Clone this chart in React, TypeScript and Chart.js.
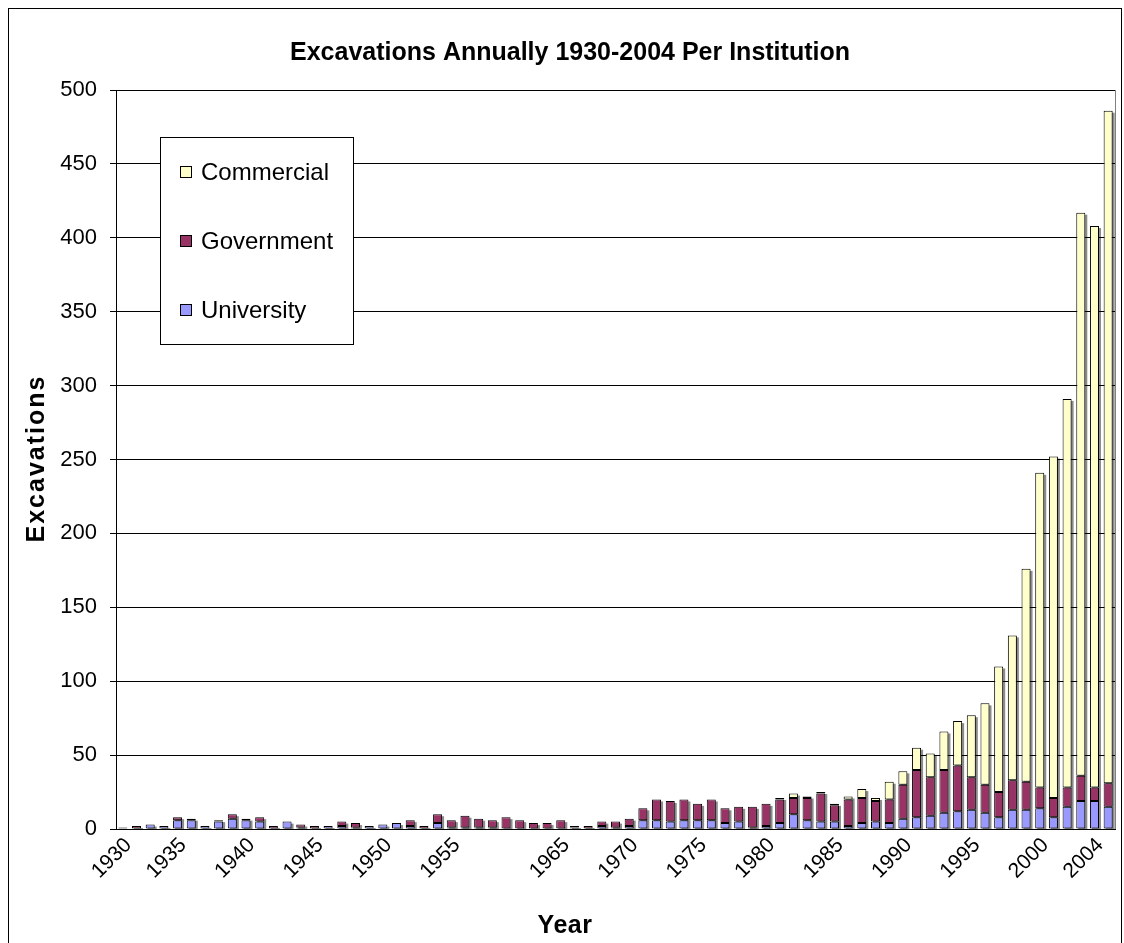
import { useEffect, useRef } from 'react';
import { Chart, registerables } from 'chart.js';

Chart.register(...registerables);

// Category (tick) labels: one entry per bar, only some years are labelled
const categories = [
  '', '1930', '', '', '', '1935', '', '', '', '', '1940', '', '', '', '', '1945', '', '', '', '', '1950', '', '', '', '', '1955',
  '', '', '', '', '', '', '', '1965', '', '', '', '', '1970', '', '', '', '', '1975', '', '', '', '', '1980', '', '', '', '',
  '1985', '', '', '', '', '1990', '', '', '', '', '1995', '', '', '', '', '2000', '', '', '', '2004',
];

const university = [
  1, 0, 3, 2, 6, 6, 2, 5, 7, 6, 5, 0, 5, 1, 0, 2, 2, 1, 2, 3, 4, 2, 0, 4, 1, 1,
  1, 1, 0, 0, 0, 0, 0, 1, 0, 2, 1, 2, 6, 6, 5, 6, 6, 6, 4, 5, 1, 2, 4, 10, 6, 5, 5,
  2, 4, 5, 4, 7, 8, 9, 11, 12, 13, 11, 8, 13, 13, 14, 8, 15, 19, 19, 15,
];
const government = [
  0, 2, 0, 0, 2, 1, 0, 1, 3, 1, 3, 2, 0, 2, 2, 0, 3, 3, 0, 0, 0, 4, 2, 6, 5, 8,
  6, 5, 8, 6, 4, 4, 6, 1, 2, 3, 4, 5, 8, 14, 14, 14, 11, 14, 10, 10, 14, 15, 16, 11, 15, 19, 11,
  18, 17, 14, 16, 23, 32, 26, 29, 31, 22, 19, 17, 20, 19, 14, 13, 13, 17, 9, 16,
];
const commercial = [
  0, 0, 0, 0, 0, 0, 0, 0, 0, 0, 0, 0, 0, 0, 0, 0, 0, 0, 0, 0, 0, 0, 0, 0, 0, 0,
  0, 0, 0, 0, 0, 0, 0, 0, 0, 0, 0, 0, 0, 0, 0, 0, 0, 0, 0, 0, 0, 0, 1, 3, 1, 1, 1,
  2, 6, 2, 12, 9, 15, 16, 26, 30, 42, 55, 85, 98, 144, 213, 231, 263, 381, 380, 455,
];

const seriesNames = ['University', 'Government', 'Commercial'];
const seriesColors = ['#9999FF', '#993366', '#FFFFCC'];
const chartTitle = 'Excavations Annually 1930-2004 Per Institution';
const yTitle = 'Excavations';
const xTitle = 'Year';

const FONT = "'Liberation Sans', Arial, Helvetica, sans-serif";

const decorPlugin = {
  id: 'excelDecor',
  beforeDatasetsDraw(chart: any) {
    const { ctx, chartArea } = chart;
    const metas = chart.getSortedVisibleDatasetMetas();
    const n = chart.data.labels.length;
    ctx.save();
    ctx.beginPath();
    ctx.rect(chartArea.left, chartArea.top, chartArea.right - chartArea.left, chartArea.bottom - chartArea.top);
    ctx.clip();
    ctx.fillStyle = 'rgba(0,0,0,0.45)';
    for (let i = 0; i < n; i++) {
      let top = Infinity;
      let bottom = -Infinity;
      let x = 0;
      let w = 0;
      metas.forEach((m: any) => {
        const el = m.data[i];
        if (!el) return;
        const p = el.getProps(['x', 'y', 'base', 'width'], true);
        const v = chart.data.datasets[m.index].data[i];
        if (!v) return;
        top = Math.min(top, p.y, p.base);
        bottom = Math.max(bottom, p.y, p.base);
        x = p.x;
        w = p.width;
      });
      if (top < bottom) {
        ctx.fillRect(x - w / 2 + 2, top + 2, w, bottom - top);
      }
    }
    ctx.restore();
  },
  afterDraw(chart: any) {
    const { ctx, chartArea, width } = chart;
    ctx.save();
    // plot area right border
    ctx.strokeStyle = '#808080';
    ctx.lineWidth = 1;
    ctx.beginPath();
    ctx.moveTo(Math.round(chartArea.right) + 0.5, chartArea.top);
    ctx.lineTo(Math.round(chartArea.right) + 0.5, chartArea.bottom);
    ctx.stroke();

    ctx.fillStyle = '#000';
    // chart title
    ctx.save();
    ctx.font = `bold 25px ${FONT}`;
    ctx.textAlign = 'center';
    ctx.textBaseline = 'middle';
    ctx.fillText(chartTitle, width / 2 + 5, 44);
    ctx.restore();

    // y axis title
    ctx.save();
    ctx.translate(27, (chartArea.top + chartArea.bottom) / 2);
    ctx.rotate(-Math.PI / 2);
    ctx.font = `bold 25px ${FONT}`;
    (ctx as any).letterSpacing = '2px';
    ctx.textAlign = 'center';
    ctx.textBaseline = 'middle';
    ctx.fillText(yTitle, 1, 1);
    ctx.restore();

    // x axis title
    ctx.save();
    ctx.font = `bold 25px ${FONT}`;
    (ctx as any).letterSpacing = '0.5px';
    ctx.textAlign = 'center';
    ctx.textBaseline = 'middle';
    ctx.fillText(xTitle, width / 2, chartArea.bottom + 97);
    ctx.restore();

    // legend box
    const bx = chartArea.left + 44;
    const by = chartArea.top + 47;
    const bw = 193;
    const bh = 207;
    ctx.fillStyle = '#fff';
    ctx.fillRect(bx, by, bw, bh);
    ctx.strokeStyle = '#000';
    ctx.strokeRect(Math.round(bx) + 0.5, Math.round(by) + 0.5, bw, bh);
    const order = [2, 1, 0];
    order.forEach((di, k) => {
      const ds = chart.data.datasets[di];
      const cy = by + 35 + k * 69;
      ctx.fillStyle = ds.backgroundColor;
      ctx.fillRect(bx + 20, cy - 6, 12, 12);
      ctx.strokeStyle = '#000';
      ctx.strokeRect(bx + 20.5, cy - 5.5, 11, 11);
      ctx.fillStyle = '#000';
      ctx.font = `24px ${FONT}`;
      ctx.textAlign = 'left';
      ctx.textBaseline = 'middle';
      ctx.fillText(ds.label, bx + 41, cy + 1);
    });
    ctx.restore();
  },
};

export default function App() {
  const canvasRef = useRef<HTMLCanvasElement | null>(null);

  useEffect(() => {
    const canvas = canvasRef.current;
    if (!canvas) return;
    const seriesData = [university, government, commercial];
    const chart = new Chart(canvas, {
      type: 'bar',
      data: {
        labels: categories,
        datasets: seriesData.map((d, i) => ({
          label: seriesNames[i],
          data: d,
          backgroundColor: seriesColors[i],
          borderColor: '#000',
          borderWidth: 1,
          borderSkipped: false,
          categoryPercentage: 1,
          barPercentage: 0.66,
        })),
      },
      options: {
        responsive: false,
        animation: false,
        maintainAspectRatio: false,
        layout: { padding: { left: 0, right: 6, top: 81, bottom: 0 } },
        plugins: {
          legend: { display: false },
          tooltip: { enabled: false },
          title: { display: false },
        },
        scales: {
          x: {
            stacked: true,
            grid: { display: false, drawTicks: false },
            border: { display: true, color: '#000', width: 1 },
            ticks: {
              autoSkip: false,
              minRotation: 45,
              maxRotation: 45,
              color: '#000',
              padding: 4,
              labelOffset: -8,
              font: { family: FONT, size: 21 },
            },
            afterFit: (s: any) => {
              s.height = 114;
              s.paddingLeft = 0;
              s.paddingRight = 0;
            },
          },
          y: {
            stacked: true,
            min: 0,
            max: 500,
            ticks: {
              stepSize: 50,
              color: '#000',
              padding: 13,
              font: { family: FONT, size: 22 },
            },
            grid: { color: '#000', lineWidth: 1, tickLength: 6, drawTicks: true },
            border: { display: true, color: '#000', width: 1 },
            afterFit: (s: any) => {
              s.width = 107;
            },
          },
        },
      },
      plugins: [decorPlugin],
    });
    return () => chart.destroy();
  }, []);

  return (
    <div style={{ position: 'fixed', left: 0, top: 0, width: 1124, height: 943, overflow: 'hidden', background: '#fff' }}>
      <div
        style={{
          position: 'absolute',
          left: 8,
          top: 8,
          width: 1112,
          height: 940,
          border: '1px solid #000',
          boxSizing: 'content-box',
        }}
      >
        <canvas ref={canvasRef} width={1112} height={934} style={{ display: 'block' }} />
      </div>
    </div>
  );
}
